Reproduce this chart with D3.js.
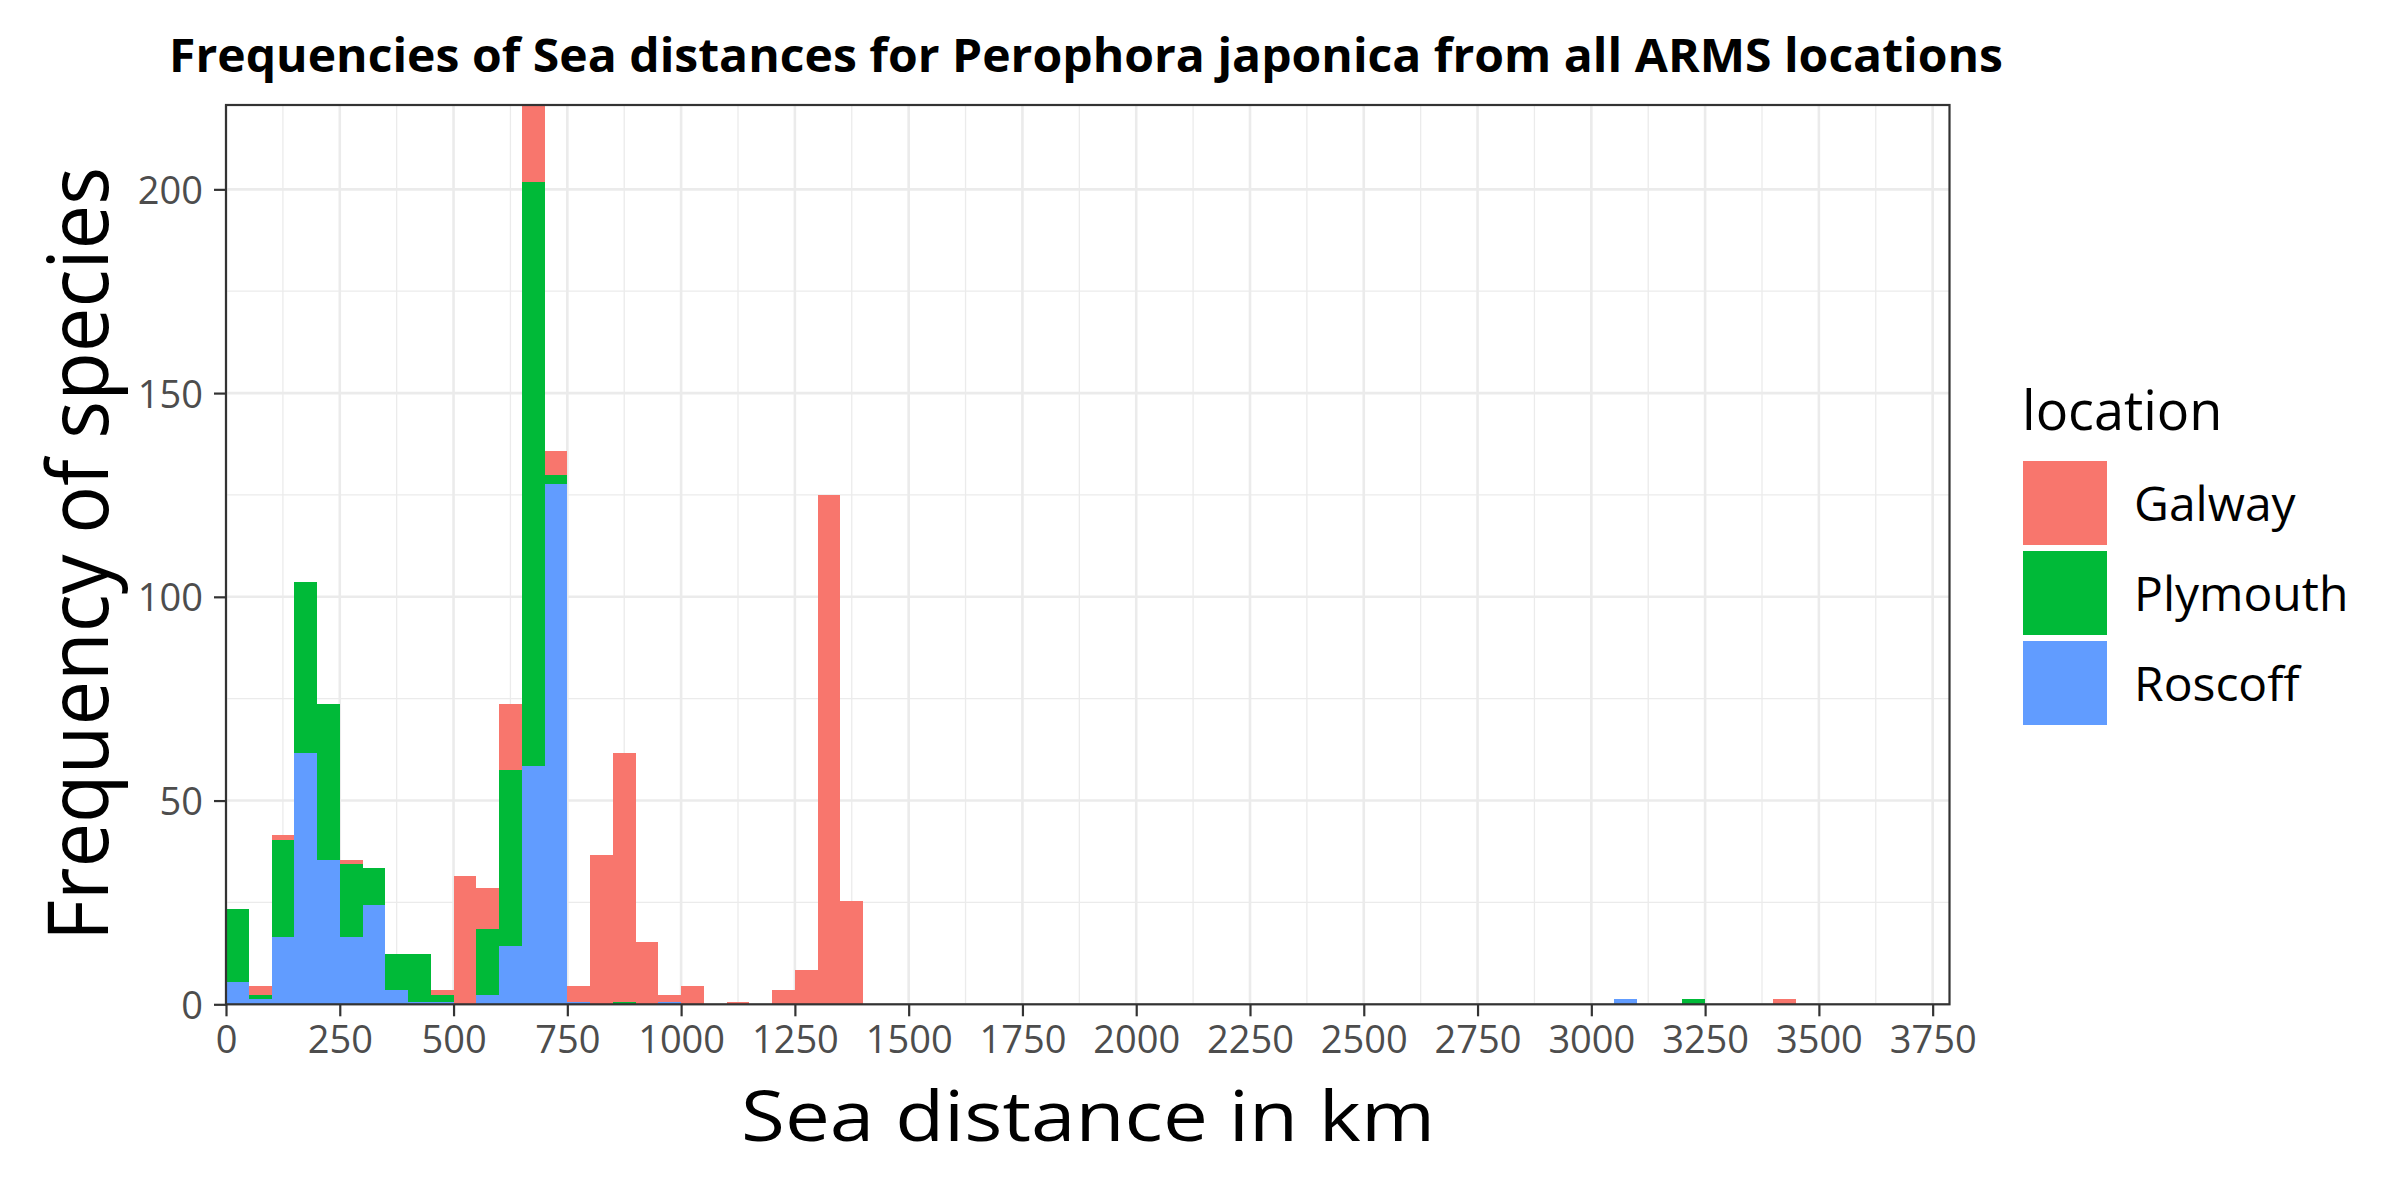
<!DOCTYPE html>
<html>
<head>
<meta charset="utf-8">
<script src="https://cdn.jsdelivr.net/npm/d3@7"></script>
<style>
  html, body { margin: 0; padding: 0; background: #fff; }
  svg { display: block; }
  text { font-family: "Open Sans", "Noto Sans", sans-serif; }
</style>
</head>
<body>
<svg id="chart" width="2400" height="1200"></svg>
<script>
// ---------------- data ----------------
const title = "Frequencies of Sea distances for Perophora japonica from all ARMS locations";
const xTitle = "Sea distance in km";
const yTitle = "Frequency of species";
const legendTitle = "location";
const locations = ["Galway", "Plymouth", "Roscoff"];
const colors = ["#F8766D", "#00BA38", "#619CFF"];
const binWidth = 50;
// start of each 50 km bin that holds species
const binStart = [0, 50, 100, 150, 200, 250, 300, 350, 400, 450, 500, 550, 600, 650, 700,
                  750, 800, 850, 900, 950, 1000, 1100, 1200, 1250, 1300, 1350, 3050, 3200, 3400];
// stacked segment heights (bottom to top: Roscoff, Plymouth, Galway)
const roscoff  = [5.5, 1.4, 16.6, 61.6, 35.5, 16.6, 24.4, 3.6, 0.6, 0.6, 0, 2.3, 14.4, 58.6, 127.6,
                  0.6, 0, 0, 0, 0.6, 0, 0, 0, 0, 0, 0, 1.35, 0, 0];
const plymouth = [18, 0.9, 23.8, 42, 38.1, 17.9, 9.1, 8.8, 11.8, 1.7, 0, 16.3, 43.2, 143.3, 2.3,
                  0, 0, 0.6, 0, 0, 0, 0, 0, 0, 0, 0, 0, 1.35, 0];
const galway   = [0, 2.2, 1.2, 0, 0, 1, 0, 0, 0, 1.3, 31.6, 10, 16, 19, 5.8,
                  3.9, 36.6, 61, 15.4, 1.7, 4.5, 0.6, 3.6, 8.5, 124.9, 25.4, 0, 0, 1.35];
const xTicks = [0, 250, 500, 750, 1000, 1250, 1500, 1750, 2000, 2250, 2500, 2750, 3000, 3250, 3500, 3750];
const yTicks = [0, 50, 100, 150, 200];
const xMinor = [125, 375, 625, 875, 1125, 1375, 1625, 1875, 2125, 2375, 2625, 2875, 3125, 3375, 3625];
const yMinor = [25, 75, 125, 175];
const xDomain = [0, 3787];
const yDomain = [0, 220.7];

// ---------------- layout ----------------
const P = { left: 226, right: 1949.5, top: 105, bottom: 1004.3 };
const svg = d3.select("#chart");
const x = d3.scaleLinear().domain(xDomain).range([P.left, P.right]);
const y = d3.scaleLinear().domain(yDomain).range([P.bottom, P.top]);
const color = d3.scaleOrdinal().domain(locations).range(colors);

svg.append("rect").attr("width", 2400).attr("height", 1200).attr("fill", "#fff");

svg.append("defs").append("clipPath").attr("id", "panel")
  .append("rect").attr("x", P.left).attr("y", P.top)
  .attr("width", P.right - P.left).attr("height", P.bottom - P.top);

const grid = svg.append("g");
grid.selectAll(".xmin").data(xMinor).join("line")
  .attr("x1", d => x(d)).attr("x2", d => x(d)).attr("y1", P.top).attr("y2", P.bottom)
  .attr("stroke", "#EBEBEB").attr("stroke-width", 1.3);
grid.selectAll(".ymin").data(yMinor).join("line")
  .attr("y1", d => y(d)).attr("y2", d => y(d)).attr("x1", P.left).attr("x2", P.right)
  .attr("stroke", "#EBEBEB").attr("stroke-width", 1.3);
grid.selectAll(".xmaj").data(xTicks).join("line")
  .attr("x1", d => x(d)).attr("x2", d => x(d)).attr("y1", P.top).attr("y2", P.bottom)
  .attr("stroke", "#EBEBEB").attr("stroke-width", 2.6);
grid.selectAll(".ymaj").data(yTicks).join("line")
  .attr("y1", d => y(d)).attr("y2", d => y(d)).attr("x1", P.left).attr("x2", P.right)
  .attr("stroke", "#EBEBEB").attr("stroke-width", 2.6);

// ---------------- bars ----------------
const rows = binStart.map((b, i) => ({ bin: b, Roscoff: roscoff[i], Plymouth: plymouth[i], Galway: galway[i] }));
const stacked = d3.stack().keys(["Roscoff", "Plymouth", "Galway"])(rows);
const bars = svg.append("g").attr("clip-path", "url(#panel)");
stacked.forEach(layer => {
  bars.append("g").attr("fill", color(layer.key))
    .selectAll("rect").data(layer.filter(d => d[1] - d[0] > 0)).join("rect")
    .attr("x", d => x(d.data.bin))
    .attr("width", d => x(d.data.bin + binWidth) - x(d.data.bin))
    .attr("y", d => y(d[1]))
    .attr("height", d => y(d[0]) - y(d[1]))
    .attr("shape-rendering", "crispEdges");
});

// panel border
svg.append("rect").attr("x", P.left).attr("y", P.top)
  .attr("width", P.right - P.left).attr("height", P.bottom - P.top)
  .attr("fill", "none").attr("stroke", "#333333").attr("stroke-width", 2.2);

// ---------------- axes ----------------
const xAxis = svg.append("g").attr("transform", `translate(0,${P.bottom})`)
  .call(d3.axisBottom(x).tickValues(xTicks).tickFormat(d3.format("d")).tickSize(12).tickPadding(9));
const yAxis = svg.append("g").attr("transform", `translate(${P.left},0)`)
  .call(d3.axisLeft(y).tickValues(yTicks).tickFormat(d3.format("d")).tickSize(12).tickPadding(11));
[xAxis, yAxis].forEach(a => {
  a.select(".domain").remove();
  a.selectAll(".tick line").attr("stroke", "#333333").attr("stroke-width", 2.2);
  a.selectAll(".tick text").attr("fill", "#4D4D4D").attr("font-size", 38)
    .attr("font-family", "'Open Sans', sans-serif");
});
xAxis.selectAll(".tick text").attr("dy", "0.73em");
yAxis.selectAll(".tick text").attr("dy", "0.37em");

// titles
svg.append("text").attr("x", 1086).attr("y", 71.5).attr("text-anchor", "middle")
  .attr("font-size", 46).attr("font-weight", "bold").attr("fill", "#000")
  .attr("textLength", 1834).attr("lengthAdjust", "spacingAndGlyphs")
  .text(title);
svg.append("text").attr("x", 1088).attr("y", 1141).attr("text-anchor", "middle")
  .attr("font-size", 70).attr("fill", "#000")
  .attr("textLength", 694).attr("lengthAdjust", "spacingAndGlyphs")
  .text(xTitle);
svg.append("text").attr("transform", `translate(108,554) rotate(-90)`).attr("text-anchor", "middle")
  .attr("font-size", 84).attr("fill", "#000")
  .attr("textLength", 774).attr("lengthAdjust", "spacingAndGlyphs")
  .text(yTitle);

// ---------------- legend ----------------
const lg = svg.append("g");
lg.append("text").attr("x", 2022).attr("y", 430).attr("font-size", 54).attr("fill", "#000").text(legendTitle);
const keyY = d3.scaleBand().domain(locations).range([461, 731]).paddingInner(0);
const items = lg.selectAll(".item").data(locations).join("g");
items.append("rect").attr("x", 2023).attr("y", d => keyY(d))
  .attr("width", 84).attr("height", 84).attr("fill", d => color(d));
items.append("text").attr("x", 2134).attr("y", d => keyY(d) + 42 + 18)
  .attr("font-size", 48).attr("fill", "#000").text(d => d);
</script>
</body>
</html>
